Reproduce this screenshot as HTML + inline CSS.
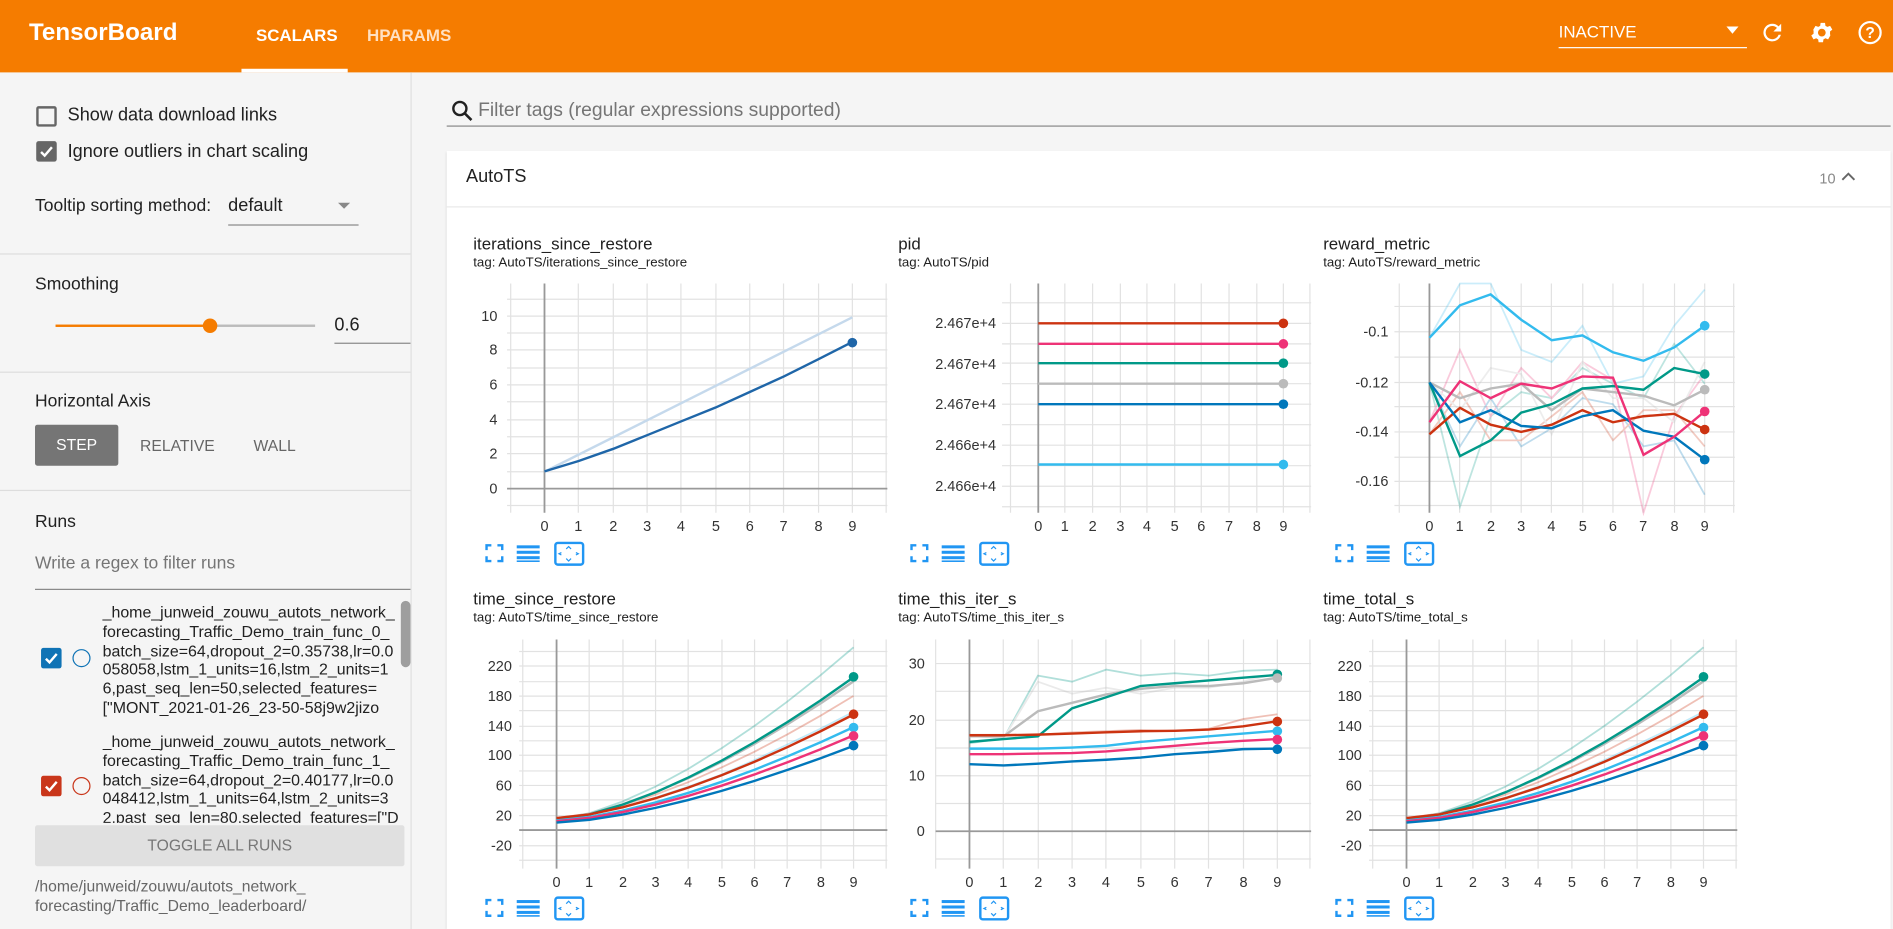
<!DOCTYPE html>
<html><head><meta charset="utf-8"><style>
*{box-sizing:border-box;margin:0;padding:0}
html,body{width:1893px;height:929px;overflow:hidden;background:#f5f5f5;font-family:"Liberation Sans",Roboto,sans-serif}
#w{position:absolute;left:0;top:0;width:1568px;height:770px;transform:scale(1.2073,1.2065);transform-origin:0 0;background:#f5f5f5}
.a{position:absolute;white-space:nowrap}
.hdr{left:0;top:0;width:1568px;height:60px;background:#f57c00}
.sep{position:absolute;left:0;width:340px;height:1px;background:#ddd}
.cb{position:absolute;width:17px;height:17px;border:2px solid #666;border-radius:2px}
.run{position:absolute;left:85px;font-size:13.2px;line-height:15.8px;color:#212121;white-space:pre}
svg text{font-family:"Liberation Sans",sans-serif}
</style></head><body><div id="w">
<div class="a hdr"></div>
<div class="a" style="left:24px;top:16px;font-size:20px;font-weight:bold;color:#fff">TensorBoard</div>
<div class="a" style="left:212px;top:21px;font-size:14px;font-weight:bold;color:#fff">SCALARS</div>
<div class="a" style="left:200px;top:57px;width:88px;height:3px;background:#fff"></div>
<div class="a" style="left:304px;top:21px;font-size:14px;font-weight:bold;color:#ffe0c2">HPARAMS</div>
<div class="a" style="left:1291px;top:18px;font-size:14px;color:#fff">INACTIVE</div>
<div class="a" style="left:1291px;top:39px;width:156px;height:1px;background:#fff"></div>
<svg class="a" style="left:1428px;top:20px" width="14" height="10"><path d="M2 2h10l-5 6z" fill="#fff"/></svg>
<svg class="a" style="left:1457px;top:16px" width="22" height="22" viewBox="0 0 24 24"><path d="M17.65 6.35A7.96 7.96 0 0 0 12 4a8 8 0 1 0 7.73 10h-2.08A6 6 0 1 1 12 6c1.66 0 3.14.69 4.22 1.78L13 11h7V4z" fill="#fff"/></svg>
<svg class="a" style="left:1498px;top:16px" width="22" height="22" viewBox="0 0 24 24"><path d="M19.4 13c.04-.33.06-.66.06-1s-.02-.67-.07-1l2.11-1.65-2-3.46-2.49 1a7.3 7.3 0 0 0-1.73-1l-.38-2.65h-4l-.38 2.65c-.63.25-1.2.6-1.73 1l-2.49-1-2 3.46L4.6 11c-.04.33-.07.67-.07 1s.03.67.07 1l-2.11 1.65 2 3.46 2.49-1c.53.4 1.1.75 1.73 1l.38 2.65h4l.38-2.65c.63-.25 1.2-.6 1.73-1l2.49 1 2-3.46zM12 15.5A3.5 3.5 0 1 1 12 8.5a3.5 3.5 0 0 1 0 7z" fill="#fff"/></svg>
<svg class="a" style="left:1538px;top:16px" width="22" height="22" viewBox="0 0 24 24"><circle cx="12" cy="12" r="9.5" fill="none" stroke="#fff" stroke-width="2"/><text x="12" y="17" font-size="14" text-anchor="middle" fill="#fff" font-weight="bold">?</text></svg>

<!-- sidebar -->
<div class="cb" style="left:30px;top:88px"></div>
<div class="a" style="left:56px;top:87px;font-size:15px;color:#212121">Show data download links</div>
<div class="cb" style="left:30px;top:117px;background:#666;border-color:#666"></div>
<svg class="a" style="left:31px;top:118px" width="15" height="15"><path d="M3 8l3 3 6-7" stroke="#fff" stroke-width="2" fill="none"/></svg>
<div class="a" style="left:56px;top:117px;font-size:15px;color:#212121">Ignore outliers in chart scaling</div>
<div class="a" style="left:29px;top:163px;font-size:14.5px;color:#212121">Tooltip sorting method:</div>
<div class="a" style="left:189px;top:162px;font-size:15px;color:#212121">default</div>
<svg class="a" style="left:279px;top:167px" width="12" height="8"><path d="M1 1h10l-5 5z" fill="#888"/></svg>
<div class="a" style="left:189px;top:186px;width:108px;height:1px;background:#888"></div>
<div class="sep" style="top:210px"></div>
<div class="a" style="left:29px;top:228px;font-size:14.5px;color:#212121">Smoothing</div>
<div class="a" style="left:46px;top:269px;width:128px;height:2px;background:#f57c00"></div>
<div class="a" style="left:174px;top:269px;width:87px;height:2px;background:#bbb"></div>
<div class="a" style="left:168px;top:264px;width:12px;height:12px;border-radius:6px;background:#f57c00"></div>
<div class="a" style="left:277px;top:261px;font-size:15px;color:#212121">0.6</div>
<div class="a" style="left:277px;top:284px;width:63px;height:1px;background:#888"></div>
<div class="sep" style="top:308px"></div>
<div class="a" style="left:29px;top:325px;font-size:14.5px;color:#212121">Horizontal Axis</div>
<div class="a" style="left:29px;top:352px;width:69px;height:34px;background:#757575;border-radius:2px;color:#fff;font-size:13px;text-align:center;line-height:34px">STEP</div>
<div class="a" style="left:116px;top:362px;font-size:13px;color:#666">RELATIVE</div>
<div class="a" style="left:210px;top:362px;font-size:13px;color:#666">WALL</div>
<div class="sep" style="top:406px"></div>
<div class="a" style="left:29px;top:425px;font-size:14.5px;color:#212121">Runs</div>
<div class="a" style="left:29px;top:459px;font-size:14.5px;color:#757575">Write a regex to filter runs</div>
<div class="a" style="left:29px;top:488px;width:311px;height:1px;background:#888"></div>
<div class="a" style="left:332px;top:498px;width:8px;height:55px;border-radius:4px;background:#9e9e9e"></div>
<div class="a" style="left:34px;top:537px;width:17px;height:17px;border-radius:2px;background:#0f73b5"></div>
<svg class="a" style="left:35px;top:538px" width="15" height="15"><path d="M3 8l3 3 6-7" stroke="#fff" stroke-width="2" fill="none"/></svg>
<div class="a" style="left:60px;top:538px;width:15px;height:15px;border-radius:8px;border:1.6px solid #0f73b5"></div>
<div class="run" style="top:500px">_home_junweid_zouwu_autots_network_
forecasting_Traffic_Demo_train_func_0_
batch_size=64,dropout_2=0.35738,lr=0.0
058058,lstm_1_units=16,lstm_2_units=1
6,past_seq_len=50,selected_features=
["MONT_2021-01-26_23-50-58j9w2jizo</div>
<div class="a" style="left:34px;top:643px;width:17px;height:17px;border-radius:2px;background:#c9361a"></div>
<svg class="a" style="left:35px;top:644px" width="15" height="15"><path d="M3 8l3 3 6-7" stroke="#fff" stroke-width="2" fill="none"/></svg>
<div class="a" style="left:60px;top:644px;width:15px;height:15px;border-radius:8px;border:1.6px solid #c9361a"></div>
<div class="run" style="top:607px;height:75px;overflow:hidden">_home_junweid_zouwu_autots_network_
forecasting_Traffic_Demo_train_func_1_
batch_size=64,dropout_2=0.40177,lr=0.0
048412,lstm_1_units=64,lstm_2_units=3
2,past_seq_len=80,selected_features=["D</div>
<div class="a" style="left:29px;top:684px;width:306px;height:34px;background:#e0e0e0;border-radius:2px;color:#777;font-size:13px;text-align:center;line-height:34px">TOGGLE ALL RUNS</div>
<div class="a" style="left:29px;top:727px;font-size:13px;line-height:16px;color:#666;white-space:pre">/home/junweid/zouwu/autots_network_
forecasting/Traffic_Demo_leaderboard/</div>
<div class="a" style="left:340px;top:60px;width:1px;height:710px;background:#e0e0e0"></div>

<!-- main -->
<svg class="a" style="left:373px;top:82px" width="20" height="20" viewBox="0 0 24 24"><circle cx="9.5" cy="9.5" r="6.5" fill="none" stroke="#212121" stroke-width="2.4"/><path d="M14 14l7 7" stroke="#212121" stroke-width="2.6"/></svg>
<div class="a" style="left:396px;top:83px;font-size:16px;color:#757575">Filter tags (regular expressions supported)</div>
<div class="a" style="left:370px;top:104px;width:1196px;height:1px;background:#888"></div>
<div class="a" style="left:370px;top:125px;width:1196px;height:645px;background:#fff;box-shadow:0 1px 2px rgba(0,0,0,.15)"></div>
<div class="a" style="left:386px;top:138px;font-size:15px;color:#212121">AutoTS</div>
<div class="a" style="left:1507px;top:141px;font-size:12px;color:#888">10</div>
<svg class="a" style="left:1524px;top:141px" width="14" height="10"><path d="M2 8l5-5 5 5" stroke="#666" stroke-width="1.6" fill="none"/></svg>
<div class="a" style="left:370px;top:171px;width:1196px;height:1px;background:#e8e8e8"></div>

<svg class="a" style="left:0;top:0" width="1568" height="770">
<defs>
<g id="icons"><path d="M0 4V0h4M9 0h4v4M13 9v4H9M4 13H0V9" stroke="#2196f3" stroke-width="2" fill="none"/>
<rect x="25" y="0" width="19" height="2.5" fill="#2196f3"/><rect x="25" y="4.5" width="19" height="2.5" fill="#2196f3"/><rect x="25" y="9" width="19" height="2.5" fill="#2196f3"/><rect x="25" y="12.5" width="19" height="1.3" fill="#2196f3"/>
<rect x="57" y="-2" width="23" height="18" rx="2" stroke="#2196f3" stroke-width="2" fill="none"/><path d="M66 3l2-2 2 2M66 11l2 2 2-2M62 6l-2 1 2 1M74 6l2 1-2 1" stroke="#2196f3" stroke-width="1" fill="none"/></g>
</defs>
<g font-size="14" fill="#212121">
<text x="392" y="207">iterations_since_restore</text><text x="744" y="207">pid</text><text x="1096" y="207">reward_metric</text>
<text x="392" y="501">time_since_restore</text><text x="744" y="501">time_this_iter_s</text><text x="1096" y="501">time_total_s</text>
</g>
<g font-size="11" fill="#212121">
<text x="392" y="221">tag: AutoTS/iterations_since_restore</text><text x="744" y="221">tag: AutoTS/pid</text><text x="1096" y="221">tag: AutoTS/reward_metric</text>
<text x="392" y="515">tag: AutoTS/time_since_restore</text><text x="744" y="515">tag: AutoTS/time_this_iter_s</text><text x="1096" y="515">tag: AutoTS/time_total_s</text>
</g>
<use href="#icons" x="403" y="452"/><use href="#icons" x="755" y="452"/><use href="#icons" x="1107" y="452"/>
<use href="#icons" x="403" y="746"/><use href="#icons" x="755" y="746"/><use href="#icons" x="1107" y="746"/>

<!-- chart1 -->
<g stroke="#e2e2e2" stroke-width="1">
<path d="M420 248H735M420 262H735M420 276H735M420 290H735M420 305H735M420 319H735M420 333H735M420 348H735M420 362H735M420 376H735M420 391H735M420 419H735"/>
<path d="M423 235V425M479 235V425M508 235V425M536 235V425M564 235V425M593 235V425M621 235V425M649 235V425M678 235V425M706 235V425M734 235V425"/>
</g>
<path d="M420 405H735" stroke="#999" stroke-width="1.5"/><path d="M451 235V425" stroke="#999" stroke-width="1.5"/>
<g font-size="12" fill="#333" text-anchor="end"><text x="412" y="266">10</text><text x="412" y="294">8</text><text x="412" y="323">6</text><text x="412" y="352">4</text><text x="412" y="380">2</text><text x="412" y="409">0</text></g>
<g font-size="12" fill="#333" text-anchor="middle"><text x="451" y="440">0</text><text x="479" y="440">1</text><text x="508" y="440">2</text><text x="536" y="440">3</text><text x="564" y="440">4</text><text x="593" y="440">5</text><text x="621" y="440">6</text><text x="649" y="440">7</text><text x="678" y="440">8</text><text x="706" y="440">9</text></g>
<path d="M451 391L706 263" stroke="#c5d9ec" stroke-width="2" fill="none"/>
<polyline points="451,390.7 479.3,382.1 507.7,372.1 536,360.7 564.3,349.2 592.7,337.8 621,324.9 649.3,312 677.7,297.8 706,283.4" stroke="#1f66a8" stroke-width="2" fill="none"/>
<circle cx="706" cy="284" r="4" fill="#1f66a8"/>

<!-- chart2 -->
<g stroke="#e2e2e2">
<path d="M830 251H1086M830 268H1086M830 285H1086M830 301H1086M830 318H1086M830 335H1086M830 352H1086M830 369H1086M830 386H1086M830 403H1086M830 420H1086"/>
<path d="M837 235V425M882 235V425M905 235V425M928 235V425M950 235V425M973 235V425M995 235V425M1018 235V425M1041 235V425M1063 235V425M1085 235V425"/>
</g>
<path d="M860 235V425" stroke="#999" stroke-width="1.5"/>
<g font-size="12" fill="#333" text-anchor="end"><text x="825" y="272">2.467e+4</text><text x="825" y="306">2.467e+4</text><text x="825" y="339">2.467e+4</text><text x="825" y="373">2.466e+4</text><text x="825" y="407">2.466e+4</text></g>
<g font-size="12" fill="#333" text-anchor="middle"><text x="860" y="440">0</text><text x="882" y="440">1</text><text x="905" y="440">2</text><text x="928" y="440">3</text><text x="950" y="440">4</text><text x="973" y="440">5</text><text x="995" y="440">6</text><text x="1018" y="440">7</text><text x="1041" y="440">8</text><text x="1063" y="440">9</text></g>
<g stroke-width="2">
<path d="M860 268H1063" stroke="#cc3311"/><path d="M860 285H1063" stroke="#ee3377"/><path d="M860 301H1063" stroke="#009988"/><path d="M860 318H1063" stroke="#bbbbbb"/><path d="M860 335H1063" stroke="#0077bb"/><path d="M860 385H1063" stroke="#33bbee"/>
</g>
<circle cx="1063" cy="268" r="4" fill="#cc3311"/><circle cx="1063" cy="285" r="4" fill="#ee3377"/><circle cx="1063" cy="301" r="4" fill="#009988"/><circle cx="1063" cy="318" r="4" fill="#bbbbbb"/><circle cx="1063" cy="335" r="4" fill="#0077bb"/><circle cx="1063" cy="385" r="4" fill="#33bbee"/>

<!-- chart3 -->
<g stroke="#e2e2e2">
<path d="M1155 254H1437M1155 275H1437M1155 296H1437M1155 317H1437M1155 337H1437M1155 358H1437M1155 379H1437M1155 399H1437M1155 419H1437"/>
<path d="M1159 235V425M1209 235V425M1235 235V425M1260 235V425M1285 235V425M1311 235V425M1336 235V425M1361 235V425M1387 235V425M1412 235V425M1436 235V425"/>
</g>
<path d="M1184 235V425" stroke="#999" stroke-width="1.5"/>
<g font-size="12" fill="#333" text-anchor="end"><text x="1150" y="279">-0.1</text><text x="1150" y="321">-0.12</text><text x="1150" y="362">-0.14</text><text x="1150" y="403">-0.16</text></g>
<g font-size="12" fill="#333" text-anchor="middle"><text x="1184" y="440">0</text><text x="1209" y="440">1</text><text x="1235" y="440">2</text><text x="1260" y="440">3</text><text x="1285" y="440">4</text><text x="1311" y="440">5</text><text x="1336" y="440">6</text><text x="1361" y="440">7</text><text x="1387" y="440">8</text><text x="1412" y="440">9</text></g>
<g fill="none" stroke-width="1.5" opacity=".25">
<polyline stroke="#33bbee" points="1184,280 1209.3,235 1234.7,235 1260,290 1285.3,300 1310.7,270 1336,318 1361.3,312 1386.7,270 1412,240"/>
<polyline stroke="#009988" points="1184,317 1209.3,420 1234.7,345 1260,325 1285.3,330 1310.7,305 1336,318 1361.3,330 1386.7,285 1412,318"/>
<polyline stroke="#ee3377" points="1184,350 1209.3,290 1234.7,345 1260,305 1285.3,330 1310.7,300 1336,315 1361.3,425 1386.7,345 1412,310"/>
<polyline stroke="#0077bb" points="1184,317 1209.3,370 1234.7,330 1260,370 1285.3,355 1310.7,330 1336,335 1361.3,370 1386.7,365 1412,410"/>
<polyline stroke="#cc3311" points="1184,360 1209.3,325 1234.7,365 1260,365 1285.3,345 1310.7,325 1336,365 1361.3,340 1386.7,340 1412,370"/>
<polyline stroke="#bbbbbb" points="1184,317 1209.3,340 1234.7,305 1260,310 1285.3,360 1310.7,300 1336,330 1361.3,330 1386.7,350 1412,300"/>
</g>
<g fill="none" stroke-width="2">
<polyline stroke="#bbbbbb" points="1184,317 1209.3,330 1234.7,322 1260,318 1285.3,340 1310.7,322 1336,325 1361.3,328 1386.7,336 1412,323"/>
<polyline stroke="#33bbee" points="1184,280 1209.3,253 1234.7,244 1260,265 1285.3,282 1310.7,278 1336,292 1361.3,299 1386.7,288 1412,270"/>
<polyline stroke="#009988" points="1184,317 1209.3,378 1234.7,365 1260,342 1285.3,335 1310.7,322 1336,320 1361.3,323 1386.7,305 1412,310"/>
<polyline stroke="#cc3311" points="1184,360 1209.3,338 1234.7,352 1260,358 1285.3,352 1310.7,340 1336,350 1361.3,345 1386.7,343 1412,356"/>
<polyline stroke="#0077bb" points="1184,317 1209.3,350 1234.7,340 1260,353 1285.3,355 1310.7,345 1336,340 1361.3,357 1386.7,362 1412,381"/>
<polyline stroke="#ee3377" points="1184,350 1209.3,316 1234.7,330 1260,318 1285.3,322 1310.7,312 1336,313 1361.3,377 1386.7,362 1412,341"/>
</g>
<circle cx="1412" cy="270" r="4" fill="#33bbee"/><circle cx="1412" cy="310" r="4" fill="#009988"/><circle cx="1412" cy="323" r="4" fill="#bbbbbb"/><circle cx="1412" cy="341" r="4" fill="#ee3377"/><circle cx="1412" cy="356" r="4" fill="#cc3311"/><circle cx="1412" cy="381" r="4" fill="#0077bb"/>

<!-- chart4 -->
<g id="c4">
<g stroke="#e2e2e2">
<path d="M430 540H735M430 552H735M430 565H735M430 577H735M430 589H735M430 602H735M430 614H735M430 626H735M430 639H735M430 651H735M430 663H735M430 676H735M430 701H735M430 713H735"/>
<path d="M433 530V720M488 530V720M516 530V720M543 530V720M570 530V720M598 530V720M625 530V720M652 530V720M680 530V720M707 530V720M734 530V720"/>
</g>
<path d="M430 688H735" stroke="#999" stroke-width="1.5"/><path d="M461 530V720" stroke="#999" stroke-width="1.5"/>
<g font-size="12" fill="#333" text-anchor="end"><text x="424" y="556">220</text><text x="424" y="581">180</text><text x="424" y="606">140</text><text x="424" y="630">100</text><text x="424" y="655">60</text><text x="424" y="680">20</text><text x="424" y="705">-20</text></g>
<g font-size="12" fill="#333" text-anchor="middle"><text x="461" y="735">0</text><text x="488" y="735">1</text><text x="516" y="735">2</text><text x="543" y="735">3</text><text x="570" y="735">4</text><text x="598" y="735">5</text><text x="625" y="735">6</text><text x="652" y="735">7</text><text x="680" y="735">8</text><text x="707" y="735">9</text></g>
<g fill="none" stroke-width="1.5" opacity=".3">
<polyline stroke="#009988" points="461,679.3 488.3,674 515.7,664.3 543,651.9 570.3,637.1 597.7,620.2 625,601.6 652.3,581.4 679.7,559.6 707,536.5"/>
<polyline stroke="#cc3311" points="461,678 488.3,674.3 515.7,667.4 543,658.6 570.3,648.2 597.7,636.1 625,623 652.3,608.6 679.7,593.2 707,576.8"/>
<polyline stroke="#33bbee" points="461,679 488.3,675 515.7,669 543,661 570.3,652 597.7,642 625,630 652.3,617 679.7,604 707,590"/>
</g>
<g fill="none" stroke-width="2">
<polyline stroke="#bbbbbb" points="461,678.7 488.3,674.5 515.7,666.7 543,656.7 570.3,644.9 597.7,631.4 625,616.5 652.3,600.3 679.7,583 707,564.7"/>
<polyline stroke="#009988" points="461,679.3 488.3,675 515.7,666.9 543,656.7 570.3,644.4 597.7,630.5 625,615.1 652.3,598.4 679.7,580.5 707,561.3"/>
<polyline stroke="#cc3311" points="461,678.1 488.3,675 515.7,669.1 543,661.6 570.3,652.7 597.7,642.6 625,631.4 652.3,619.2 679.7,606.1 707,592.2"/>
<polyline stroke="#33bbee" points="461,680 488.3,677.1 515.7,671.9 543,665.1 570.3,657.1 597.7,648 625,638 652.3,626.9 679.7,615.2 707,602.7"/>
<polyline stroke="#ee3377" points="461,680.6 488.3,677.9 515.7,673.1 543,666.9 570.3,659.6 597.7,651.2 625,641.9 652.3,631.8 679.7,621 707,609.5"/>
<polyline stroke="#0077bb" points="461,681.8 488.3,679.5 515.7,675.1 543,669.6 570.3,663 597.7,655.5 625,647.2 652.3,638.1 679.7,628.5 707,618.2"/>
</g>
<circle cx="707" cy="561" r="4" fill="#009988"/><circle cx="707" cy="592" r="4" fill="#cc3311"/><circle cx="707" cy="603" r="4" fill="#33bbee"/><circle cx="707" cy="610" r="4" fill="#ee3377"/><circle cx="707" cy="618" r="4" fill="#0077bb"/>
</g>
<use href="#c4" x="704" y="0"/>

<!-- chart5 -->
<g stroke="#e2e2e2">
<path d="M775 550H1086M775 573H1086M775 597H1086M775 620H1086M775 643H1086M775 666H1086M775 712H1086"/>
<path d="M775 530V720M831 530V720M860 530V720M888 530V720M916 530V720M945 530V720M973 530V720M1001 530V720M1030 530V720M1058 530V720M1085 530V720"/>
</g>
<path d="M775 689H1086" stroke="#999" stroke-width="1.5"/><path d="M803 530V720" stroke="#999" stroke-width="1.5"/>
<g font-size="12" fill="#333" text-anchor="end"><text x="766" y="554">30</text><text x="766" y="601">20</text><text x="766" y="647">10</text><text x="766" y="693">0</text></g>
<g font-size="12" fill="#333" text-anchor="middle"><text x="803" y="735">0</text><text x="831" y="735">1</text><text x="860" y="735">2</text><text x="888" y="735">3</text><text x="916" y="735">4</text><text x="945" y="735">5</text><text x="973" y="735">6</text><text x="1001" y="735">7</text><text x="1030" y="735">8</text><text x="1058" y="735">9</text></g>
<g fill="none" stroke-width="1.5" opacity=".3">
<polyline stroke="#009988" points="803,616 831.3,612 859.7,560 888,565 916.3,555 944.7,560 973,558 1001.3,560 1029.7,556 1058,555"/>
<polyline stroke="#bbbbbb" points="803,610 831.3,612 859.7,565 888,575 916.3,570 944.7,575 973,570 1001.3,570 1029.7,565 1058,558"/>
<polyline stroke="#cc3311" points="803,609 831.3,609 859.7,609 888,607 916.3,606 944.7,605 973,606 1001.3,604 1029.7,596 1058,592"/>
</g>
<g fill="none" stroke-width="2">
<polyline stroke="#bbbbbb" points="803,610.3 831.3,610.3 859.7,589.5 888,582.5 916.3,575.6 944.7,570.9 973,568.6 1001.3,568.6 1029.7,566.3 1058,561.7"/>
<polyline stroke="#009988" points="803,614.9 831.3,612.6 859.7,610.3 888,587.1 916.3,577.9 944.7,568.6 973,566.3 1001.3,564 1029.7,561.7 1058,559.4"/>
<polyline stroke="#cc3311" points="803,609.4 831.3,609.4 859.7,608.9 888,608 916.3,607 944.7,606.1 973,605.7 1001.3,604.7 1029.7,602 1058,597.8"/>
<polyline stroke="#33bbee" points="803,620.5 831.3,620.5 859.7,620.5 888,619.6 916.3,618.2 944.7,614.9 973,612.6 1001.3,610.3 1029.7,608 1058,605.7"/>
<polyline stroke="#ee3377" points="803,625.1 831.3,625.1 859.7,624.6 888,624.2 916.3,622.8 944.7,620.5 973,618.2 1001.3,615.8 1029.7,614 1058,612.6"/>
<polyline stroke="#0077bb" points="803,633.4 831.3,634.4 859.7,633 888,631.1 916.3,629.7 944.7,627.9 973,625.1 1001.3,623.3 1029.7,620.9 1058,620.5"/>
</g>
<circle cx="1058" cy="559" r="4" fill="#009988"/><circle cx="1058" cy="562" r="4" fill="#bbbbbb"/><circle cx="1058" cy="598" r="4" fill="#cc3311"/><circle cx="1058" cy="606" r="4" fill="#33bbee"/><circle cx="1058" cy="613" r="4" fill="#ee3377"/><circle cx="1058" cy="621" r="4" fill="#0077bb"/>
</svg>
</div></body></html>
